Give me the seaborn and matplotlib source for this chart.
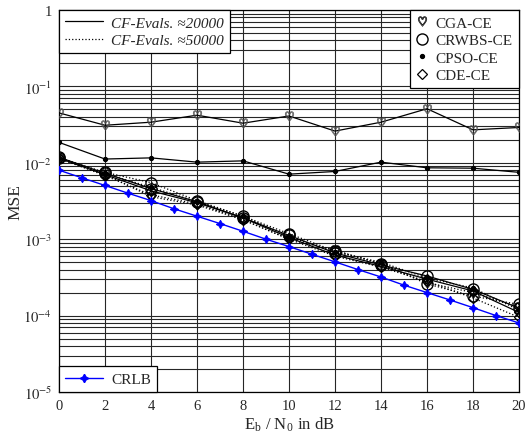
import numpy as np
import pandas as pd
import matplotlib
matplotlib.use("Agg")
import matplotlib.pyplot as plt
from matplotlib.lines import Line2D
import seaborn as sns

# ---------------- data ----------------
snr = [0, 2, 4, 6, 8, 10, 12, 14, 16, 18, 20]
snr_crlb = [0, 1, 2, 3, 4, 5, 6, 7, 8, 9, 10, 11, 12, 13, 14, 15, 16, 17, 18, 19, 20]

cga_20k = [0.045, 0.031, 0.034, 0.042, 0.033, 0.041, 0.026, 0.034, 0.051, 0.027, 0.029]
cpso_20k = [0.0185, 0.0112, 0.0116, 0.0102, 0.0106, 0.0071, 0.0077, 0.0102, 0.0086, 0.0085, 0.0075]
crwbs_20k = [0.0118, 0.0073, 0.0046, 0.0031, 0.0019, 0.00112, 0.00066, 0.00046, 0.00033, 0.00022, 0.000125]
cde_20k = [0.0115, 0.0070, 0.0043, 0.0030, 0.0019, 0.00105, 0.00062, 0.00044, 0.00030, 0.00021, 0.000110]

cga_50k = [0.0113, 0.0071, 0.0036, 0.0028, 0.0018, 0.00100, 0.00072, 0.00047, 0.00027, 0.00020, 0.000130]
crwbs_50k = [0.0116, 0.0075, 0.0055, 0.0032, 0.0020, 0.00118, 0.00070, 0.00048, 0.00026, 0.00018, 0.000140]
cpso_50k = [0.0117, 0.0072, 0.0048, 0.0031, 0.0020, 0.00108, 0.00068, 0.00050, 0.00031, 0.00023, 0.000118]
cde_50k = [0.0114, 0.0068, 0.0038, 0.0029, 0.0018, 0.00100, 0.00060, 0.00043, 0.00028, 0.00017, 0.000095]

crlb = [8.0e-3, 6.35e-3, 5.05e-3, 4.0e-3, 3.2e-3, 2.5e-3, 2.0e-3, 1.6e-3, 1.27e-3, 1.0e-3,
        8.0e-4, 6.35e-4, 5.05e-4, 4.0e-4, 3.2e-4, 2.5e-4, 2.0e-4, 1.6e-4, 1.27e-4, 1.0e-4, 8.0e-5]

algorithms = ["CGA-CE", "CRWBS-CE", "CPSO-CE", "CDE-CE"]
eval_labels = ["CF-Evals. \u224820000", "CF-Evals. \u224850000"]

# ---------------- style ----------------
sns.set_style("white")
plt.rcParams["font.family"] = ["Liberation Serif", "DejaVu Serif"]
plt.rcParams["mathtext.fontset"] = "stix"

fig = plt.figure(figsize=(5.25, 4.35), dpi=100)
ax = fig.add_axes([0.1124, 0.0966, 0.8762, 0.8781])

heart = r"$\heartsuit$"
markers = {"CGA-CE": dict(marker=heart, ms=7, mfc="none", mew=0.5),
           "CRWBS-CE": dict(marker="o", ms=8, mfc="none", mew=1.0),
           "CPSO-CE": dict(marker=".", ms=6, mew=0.8),
           "CDE-CE": dict(marker="D", ms=5, mfc="none", mew=0.9)}

series = [
    ("CGA-CE", "-", cga_20k, "0.3"),
    ("CPSO-CE", "-", cpso_20k, "black"),
    ("CRWBS-CE", "-", crwbs_20k, "black"),
    ("CDE-CE", "-", cde_20k, "black"),
    ("CGA-CE", ":", cga_50k, "black"),
    ("CRWBS-CE", ":", crwbs_50k, "black"),
    ("CPSO-CE", ":", cpso_50k, "black"),
    ("CDE-CE", ":", cde_50k, "black"),
]

for alg, ls, vals, col in series:
    df = pd.DataFrame({"snr": snr, "mse": vals})
    mk = markers[alg]
    sns.lineplot(data=df, x="snr", y="mse", ax=ax, color="black", linestyle=ls,
                 lw=0.9, marker=mk["marker"], markersize=mk["ms"],
                 markerfacecolor=mk.get("mfc", "black"), markeredgecolor=col,
                 markeredgewidth=mk["mew"], legend=False, zorder=3)

df_crlb = pd.DataFrame({"snr": snr_crlb, "mse": crlb})
sns.lineplot(data=df_crlb, x="snr", y="mse", ax=ax, color="#0000ff", lw=1.0,
             marker=(4, 1, 0), markersize=6, markeredgecolor="#0000ff",
             markerfacecolor="#0000ff", legend=False, zorder=4)

ax.set_yscale("log")
ax.set_xlim(0, 20)
ax.set_ylim(1e-5, 1)
ax.set_xticks(snr)
ax.set_xticklabels([str(v) for v in snr])
ax.set_yticks([1e-5, 1e-4, 1e-3, 1e-2, 1e-1, 1])
ax.set_yticklabels([r"$10^{-5}$", r"$10^{-4}$", r"$10^{-3}$", r"$10^{-2}$", r"$10^{-1}$", "1"])
ax.grid(True, which="major", axis="both", color="0.15", lw=0.8)
ax.grid(True, which="minor", axis="y", color="0.15", lw=0.8)
ax.tick_params(axis="both", which="both", length=0, labelsize=10.5, pad=5)
for s in ax.spines.values():
    s.set_color("black")
    s.set_linewidth(0.9)

ax.set_xlabel(r"E$_\mathregular{b}$ / N$_\mathregular{0}$ in dB", fontsize=12, labelpad=2)
ax.set_ylabel("MSE", fontsize=12.5, labelpad=0)

leg_kw = dict(frameon=True, fancybox=False, framealpha=1, edgecolor="black",
              borderaxespad=0, handletextpad=0.5, borderpad=0.4,
              labelspacing=0.25)

h1 = [Line2D([], [], color="black", ls="-", lw=0.9),
      Line2D([], [], color="black", ls=":", lw=0.9)]
leg1 = ax.legend(h1, eval_labels, loc="upper left", handlelength=2.5,
                 prop={"style": "italic", "size": 11}, **leg_kw)
leg1.get_frame().set_linewidth(0.9)
ax.add_artist(leg1)

h2 = [Line2D([], [], ls="none", color="black", marker=markers[a]["marker"],
             markersize=markers[a]["ms"], markerfacecolor=markers[a].get("mfc", "black"),
             markeredgecolor="black", markeredgewidth=markers[a]["mew"]) for a in algorithms]
leg2 = ax.legend(h2, algorithms, loc="upper right", handlelength=0.8, fontsize=11, **leg_kw)
leg2.get_frame().set_linewidth(0.9)
ax.add_artist(leg2)

h3 = [Line2D([], [], color="#0000ff", lw=1.0, marker=(4, 1, 0), markersize=6)]
leg3 = ax.legend(h3, ["CRLB"], loc="lower left", handlelength=2.5, fontsize=11, **leg_kw)
leg3.get_frame().set_linewidth(0.9)

fig.savefig("out.png", dpi=100)
